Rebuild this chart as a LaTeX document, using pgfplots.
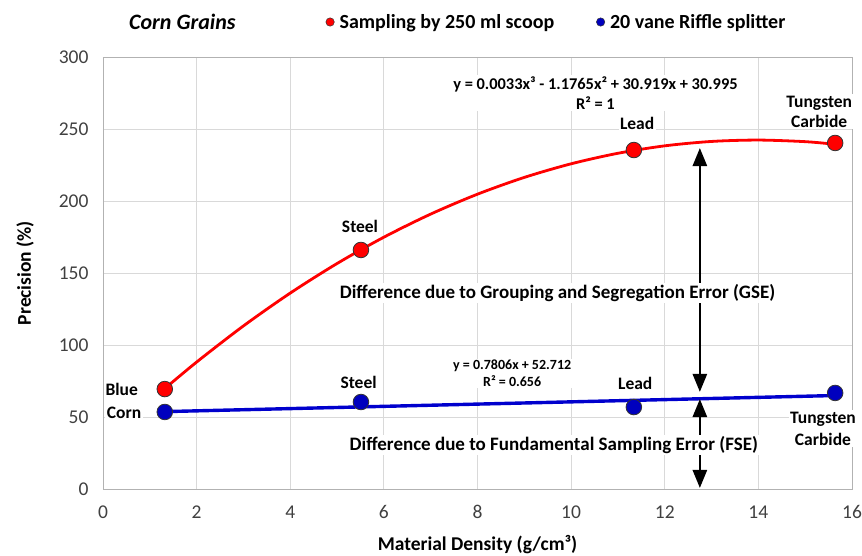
\documentclass[border=0pt]{standalone}
\usepackage{pgfplots}
\pgfplotsset{compat=1.18}
\usepackage{fontspec}
\setmainfont{Carlito}
\usetikzlibrary{arrows.meta}
\definecolor{rdot}{RGB}{255,0,0}
\definecolor{bdot}{RGB}{0,0,190}
\definecolor{bline}{RGB}{0,0,205}
\begin{document}
\begin{tikzpicture}
\useasboundingbox (-103pt,-66pt) rectangle (759pt,489pt);
\begin{axis}[
  scale only axis, width=749pt, height=432pt,
  at={(0pt,0pt)}, anchor=south west,
  xmin=0, xmax=16, ymin=0, ymax=300,
  xtick={0,2,...,16}, ytick={0,50,...,300},
  grid=major, major grid style={draw=black!15, line width=0.8pt},
  axis line style={draw=black!30, line width=0.8pt},
  major tick length=0pt,
  tick label style={font=\fontsize{19.5}{23}\selectfont, text=black!75},
  /pgf/number format/assume math mode=true,
  xticklabel style={yshift=-13pt},
  yticklabel style={xshift=-11pt},
  xlabel={Material Density (g/cm³)},
  ylabel={Precision (\%)},
  label style={font=\bfseries\fontsize{19.5}{23}\selectfont},
  xlabel style={at={(axis description cs:0.5,-0.1296)}, anchor=center},
  ylabel style={at={(axis description cs:-0.104,0.5)}, anchor=center},
  clip=false,
  legend columns=2,
  legend style={draw=none, fill=none, inner sep=0pt,
    at={(axis description cs:0.297,1.081)}, anchor=west,
    font=\bfseries\fontsize{20}{23}\selectfont,
    /tikz/every odd column/.append style={column sep=3pt},
    /tikz/every even column/.append style={column sep=40pt}},
]
% trend lines
\addplot[rdot, line width=2.8pt, smooth, forget plot] coordinates {
 (1.3,69.2) (2,88.15) (3,113.25) (4,136.06) (5,156.59) (6,174.87) (7,190.91)
 (8,204.74) (9,216.38) (10,225.84) (11,233.14) (12,238.31) (13,241.36)
 (14,242.32) (15,241.21) (15.6,239.5)};
\addplot[bline, line width=3.4pt, forget plot] coordinates {(1.3,53.73) (15.6,64.89)};
% arrows
\draw[line width=2.6pt, {Triangle[width=14pt,length=18pt]}-{Triangle[width=14pt,length=18pt]}]
  (axis cs:12.75,236.8) -- (axis cs:12.75,67.4);
\draw[line width=2.6pt, {Triangle[width=14pt,length=18pt]}-{Triangle[width=14pt,length=18pt]}]
  (axis cs:12.75,62.5) -- (axis cs:12.75,0.7);
% data
\addplot[only marks, mark=*, mark size=7.8pt, mark options={fill=rdot, draw=black!80, line width=0.8pt},
  legend image code/.code={\draw[fill=rdot, draw=black!80, line width=0.5pt] (4pt,0pt) circle (4.2pt);}]
  coordinates {(1.32,69.4) (5.51,166) (11.34,235.4) (15.64,240.3)};
\addlegendentry{Sampling by 250 ml scoop}
\addplot[only marks, mark=*, mark size=7.8pt, mark options={fill=bdot, draw=black!80, line width=0.8pt},
  legend image code/.code={\draw[fill=bdot, draw=black!80, line width=0.5pt] (4pt,0pt) circle (4.2pt);}]
  coordinates {(1.32,53.5) (5.51,60.4) (11.34,56.9) (15.64,66.7)};
\addlegendentry{20 vane Riffle splitter}
% texts
\tikzset{lab/.style={fill=white, inner sep=1.5pt, align=center, font=\bfseries\fontsize{17.5}{20}\selectfont}}
\node[font=\bfseries\itshape\fontsize{22}{26}\selectfont] at (axis description cs:0.106,1.081) {Corn Grains};
\node[lab] at (axis cs:0.4,69.4) {Blue};
\node[lab] at (axis cs:0.45,52.8) {Corn};
\node[lab] at (axis cs:5.49,182) {Steel};
\node[lab] at (axis cs:11.41,254) {Lead};
\node[lab] at (axis cs:15.3,262) {Tungsten\\Carbide};
\node[lab] at (axis cs:5.46,74.3) {Steel};
\node[lab] at (axis cs:11.37,73.6) {Lead};
\node[lab, font=\bfseries\fontsize{17.5}{22}\selectfont] at (axis cs:15.38,42) {Tungsten\\Carbide};
\node[lab, font=\bfseries\fontsize{16.4}{20}\selectfont] at (axis cs:10.52,275) {y = 0.0033x³ - 1.1765x² + 30.919x + 30.995\\R² = 1};
\node[lab, font=\bfseries\fontsize{14}{17}\selectfont] at (axis cs:8.74,80.2) {y = 0.7806x + 52.712\\R² = 0.656};
\node[lab, font=\bfseries\fontsize{19}{22}\selectfont] at (axis cs:9.71,136) {Difference due to Grouping and Segregation Error (GSE)};
\node[lab, font=\bfseries\fontsize{19}{22}\selectfont] at (axis cs:9.63,30.5) {Difference due to Fundamental Sampling Error (FSE)};
\end{axis}
\end{tikzpicture}
\end{document}
